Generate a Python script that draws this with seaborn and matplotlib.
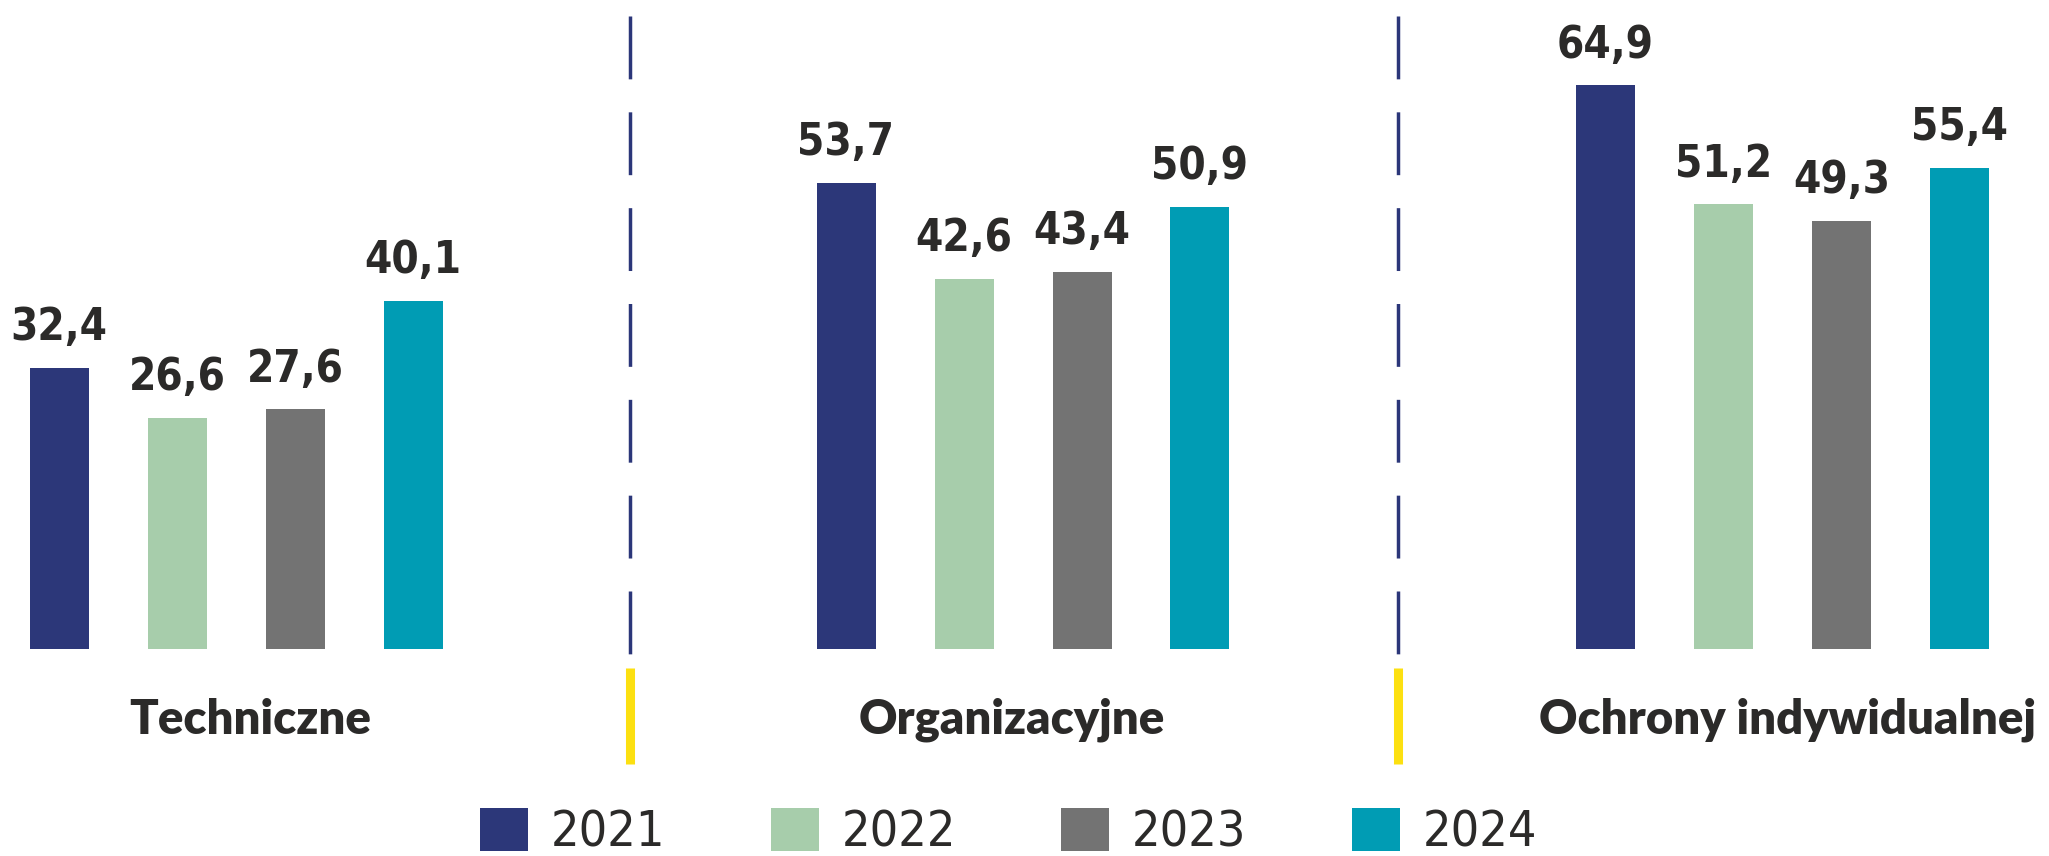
import os
import glob
import matplotlib
matplotlib.use("Agg")
import matplotlib.pyplot as plt
import seaborn as sns
import pandas as pd
from matplotlib import font_manager
from matplotlib.font_manager import FontProperties
from matplotlib.lines import Line2D

# ---------------- data ----------------
categories = ["Techniczne", "Organizacyjne", "Ochrony indywidualnej"]
years = ["2021", "2022", "2023", "2024"]
v2021 = [32.4, 53.7, 64.9]
v2022 = [26.6, 42.6, 51.2]
v2023 = [27.6, 43.4, 49.3]
v2024 = [40.1, 50.9, 55.4]
colors = ["#2C3779", "#A7CDAB", "#737373", "#009CB4"]

rows = []
for yr, vals in zip(years, [v2021, v2022, v2023, v2024]):
    for cat, v in zip(categories, vals):
        rows.append({"category": cat, "year": yr, "value": v})
df = pd.DataFrame(rows)

# ---------------- fonts ----------------
sns.set_theme(style="white")
plt.rcParams["font.family"] = ["Lato", "DejaVu Sans"]

all_files = [f.fname for f in font_manager.fontManager.ttflist]
for d in ["/usr/share/fonts", "/usr/local/share/fonts", os.path.expanduser("~/.fonts")]:
    all_files += glob.glob(os.path.join(d, "**", "*.[ot]tf"), recursive=True)
by_base = {}
for fn in all_files:
    by_base.setdefault(os.path.basename(fn).lower(), fn)


def find_font(patterns):
    for p in patterns:
        if p.lower() in by_base:
            return by_base[p.lower()]
    return None


bold_file = find_font(["DejaVuSansCondensed-Bold.ttf"])
reg_file = find_font(["DejaVuSansCondensed.ttf"])


def fp(file, size, fallback_weight):
    if file:
        return FontProperties(fname=file, size=size)
    return FontProperties(family="DejaVu Sans", weight=fallback_weight,
                          stretch="condensed", size=size * 0.9)


value_fp = fp(bold_file, 31.5, "bold")
legend_fp = fp(reg_file, 36, "light")

TEXT = "#2B2A29"
NAVY = "#2B3679"
YELLOW = "#FCE011"

W, H = 2049, 856
fig = plt.figure(figsize=(W / 100, H / 100), dpi=100)

lefts = [0, 787, 1546.4]
ax_bottom = H - 649.3
ax_h = 608.3
ax_w = 472
legend_src = None
for i, cat in enumerate(categories):
    ax = fig.add_axes([lefts[i] / W, ax_bottom / H, ax_w / W, ax_h / H])
    sub = df[df["category"] == cat]
    sns.barplot(data=sub, x="year", y="value", hue="year", order=years,
                hue_order=years, palette=colors, width=0.5, linewidth=0,
                saturation=1, legend=(i == 0), ax=ax)
    ax.set_xlim(-0.5, 3.5)
    ax.set_ylim(0, 70)
    ax.axis("off")
    for c in ax.containers:
        ax.bar_label(c, labels=[f"{v:.1f}".replace(".", ",") for v in c.datavalues],
                     padding=13.5, color=TEXT, fontproperties=value_fp)
    if i == 0:
        legend_src = ax.get_legend()

# category labels
label_x = [250.5, 1012, 1787.5]
for cat, x in zip(categories, label_x):
    fig.text(x / W, (H - 734) / H, cat, ha="center", va="baseline",
             fontsize=34, fontweight="heavy", color=TEXT,
             family=["Lato", "DejaVu Sans"])

# legend
handles = legend_src.legend_handles
labels = [t.get_text() for t in legend_src.get_texts()]
legend_src.remove()
fig.legend(handles, labels, ncol=4, loc="center left",
           bbox_to_anchor=(480 / W, 1 - 832 / H), frameon=False,
           prop=legend_fp, handlelength=0.96, handleheight=0.96,
           handletextpad=0.46, columnspacing=2.1, borderpad=0,
           borderaxespad=0, labelcolor=TEXT)

# separators
for sx in [629.5, 1398]:
    fig.add_artist(Line2D([sx / W, sx / W], [1 - 16 / H, 1 - 656 / H],
                          color=NAVY, lw=2.5, linestyle=(0, (18.1, 9.5)),
                          dash_capstyle="butt"))
    fig.add_artist(Line2D([sx / W, sx / W], [1 - 668 / H, 1 - 764 / H],
                          color=YELLOW, lw=6.5, solid_capstyle="butt"))

fig.savefig("out.png", dpi=100)
